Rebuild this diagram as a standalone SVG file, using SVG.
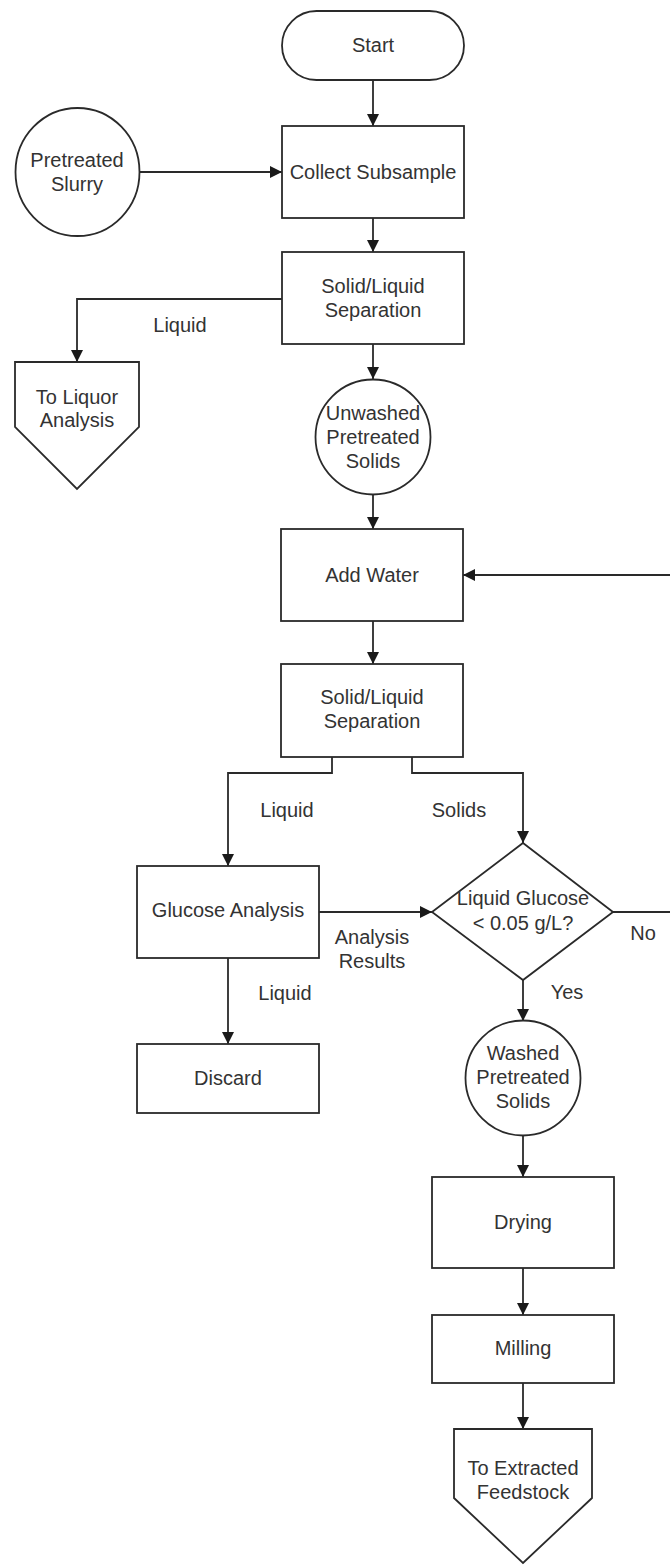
<svg xmlns="http://www.w3.org/2000/svg" width="670" height="1565" viewBox="0 0 670 1565">
<style>
.s{fill:#fff;stroke:#2a2a2a;stroke-width:1.8}
.c{fill:none;stroke:#2a2a2a;stroke-width:1.8}
text{font-family:"Liberation Sans",Arial,sans-serif;font-size:20px;fill:#333;text-anchor:middle;dominant-baseline:central}
</style>
<defs>
<marker id="ah" markerUnits="userSpaceOnUse" markerWidth="13" markerHeight="13" refX="12" refY="6" orient="auto">
<path d="M0,0 L12,6 L0,12 z" fill="#1a1a1a"/>
</marker>
</defs>
<rect width="670" height="1565" fill="#fff"/>
<g id="connectors">
<path class="c" d="M373,80 V126" marker-end="url(#ah)"/>
<path class="c" d="M140,172 H282" marker-end="url(#ah)"/>
<path class="c" d="M373,218 V252" marker-end="url(#ah)"/>
<path class="c" d="M282,299 H77 V362" marker-end="url(#ah)"/>
<path class="c" d="M373,344 V379" marker-end="url(#ah)"/>
<path class="c" d="M373,495 V529" marker-end="url(#ah)"/>
<path class="c" d="M373,621 V664" marker-end="url(#ah)"/>
<path class="c" d="M332,757 V773 H228 V866" marker-end="url(#ah)"/>
<path class="c" d="M412,757 V773 H523 V843" marker-end="url(#ah)"/>
<path class="c" d="M319,912 H432" marker-end="url(#ah)"/>
<path class="c" d="M613,912 H674 V575 H463" marker-end="url(#ah)"/>
<path class="c" d="M523,980 V1021" marker-end="url(#ah)"/>
<path class="c" d="M228,958 V1044" marker-end="url(#ah)"/>
<path class="c" d="M523,1135 V1177" marker-end="url(#ah)"/>
<path class="c" d="M523,1268 V1315" marker-end="url(#ah)"/>
<path class="c" d="M523,1383 V1429" marker-end="url(#ah)"/>
<text x="180" y="325">Liquid</text>
<text x="287" y="810">Liquid</text>
<text x="459" y="810">Solids</text>
<text x="372" y="937">Analysis</text>
<text x="372" y="961">Results</text>
<text x="643" y="933">No</text>
<text x="567" y="992">Yes</text>
<text x="285" y="993">Liquid</text>
</g>
<g id="start"><rect class="s" x="282" y="11" width="182" height="69" rx="34.5"/><text x="373" y="45">Start</text></g>
<g id="slurry"><ellipse class="s" cx="77.5" cy="172" rx="62" ry="64"/><text x="77" y="160">Pretreated</text><text x="77" y="184">Slurry</text></g>
<g id="collect"><rect class="s" x="282" y="126" width="182" height="92"/><text x="373" y="172">Collect Subsample</text></g>
<g id="sep1"><rect class="s" x="282" y="252" width="182" height="92"/><text x="373" y="286">Solid/Liquid</text><text x="373" y="310">Separation</text></g>
<g id="liquor"><path class="s" d="M15,362 H139 V427 L77,489 L15,427 Z"/><text x="77" y="397">To Liquor</text><text x="77" y="420">Analysis</text></g>
<g id="unwashed"><circle class="s" cx="373" cy="437" r="57.5"/><text x="373" y="413">Unwashed</text><text x="373" y="437">Pretreated</text><text x="373" y="461">Solids</text></g>
<g id="addwater"><rect class="s" x="281" y="529" width="182" height="92"/><text x="372" y="575">Add Water</text></g>
<g id="sep2"><rect class="s" x="281" y="664" width="182" height="93"/><text x="372" y="697">Solid/Liquid</text><text x="372" y="721">Separation</text></g>
<g id="glucose"><rect class="s" x="137" y="866" width="182" height="92"/><text x="228" y="910">Glucose Analysis</text></g>
<g id="decision"><path class="s" d="M523,843 L613,912 L523,980 L432,912 Z"/><text x="523" y="898">Liquid Glucose</text><text x="523" y="923">&lt; 0.05 g/L?</text></g>
<g id="discard"><rect class="s" x="137" y="1044" width="182" height="69"/><text x="228" y="1078">Discard</text></g>
<g id="washed"><circle class="s" cx="523" cy="1078" r="57.5"/><text x="523" y="1053">Washed</text><text x="523" y="1077">Pretreated</text><text x="523" y="1101">Solids</text></g>
<g id="drying"><rect class="s" x="432" y="1177" width="182" height="91"/><text x="523" y="1222">Drying</text></g>
<g id="milling"><rect class="s" x="432" y="1315" width="182" height="68"/><text x="523" y="1348">Milling</text></g>
<g id="feedstock"><path class="s" d="M454,1429 H592 V1498 L523,1563 L454,1498 Z"/><text x="523" y="1468">To Extracted</text><text x="523" y="1492">Feedstock</text></g>
</svg>
